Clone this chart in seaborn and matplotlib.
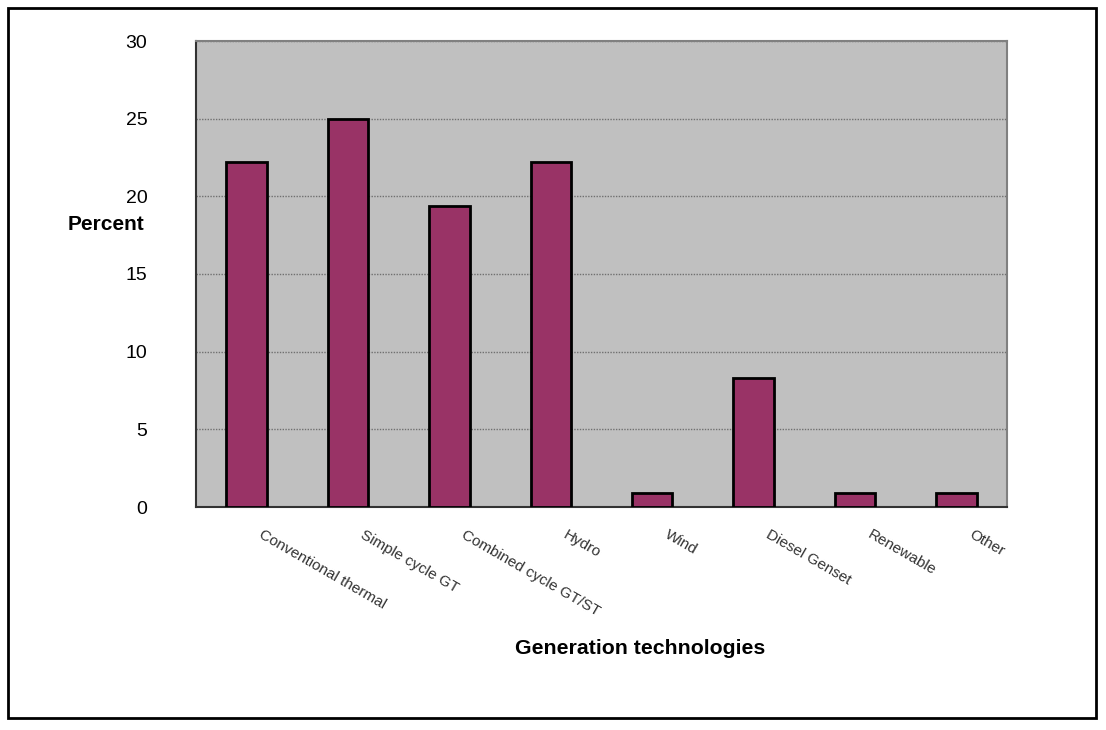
import pandas as pd
import seaborn as sns
import matplotlib.pyplot as plt
import matplotlib.transforms as mtransforms
from matplotlib.patches import Rectangle

# data
technologies = ["Conventional thermal", "Simple cycle GT", "Combined cycle GT/ST", "Hydro",
                "Wind", "Diesel Genset", "Renewable", "Other"]
percent = [22.2, 25.0, 19.4, 22.2, 0.9, 8.3, 0.9, 0.9]

df = pd.DataFrame({"tech": technologies, "pct": percent})

sns.set_style("white")
plt.rcParams['font.family'] = ['Liberation Sans', 'DejaVu Sans']

fig = plt.figure(figsize=(11.06, 7.30), dpi=100)
ax = fig.add_axes([196 / 1106, 1 - 507 / 730, 811 / 1106, 466 / 730])
ax.set_facecolor("#c0c0c0")

sns.barplot(data=df, x="tech", y="pct", color="#993366", saturation=1,
            edgecolor="black", linewidth=2, width=0.4, ax=ax, zorder=3)

ax.set_xlim(-0.5, len(technologies) - 0.5)
ax.set_ylim(0, 30)
ax.set_yticks(range(0, 31, 5))
ax.yaxis.grid(True, color="#707070", linestyle=(0, (1, 1)), linewidth=1, zorder=0)
ax.set_axisbelow(True)

# ticks on category boundaries, labels near the centres
ax.set_xticks([i - 0.5 for i in range(len(technologies) + 1)], minor=True)
ax.tick_params(axis="x", which="minor", length=6, width=1, color="black", direction="out")
ax.tick_params(axis="x", which="major", length=0, pad=15)
ax.set_xticks(range(len(technologies)))
ax.set_xticklabels(technologies, rotation=-30, ha="left", va="top",
                   rotation_mode="anchor", fontsize=11, color="#333333")
shift = mtransforms.ScaledTranslation(17 / 100, 0, fig.dpi_scale_trans)
for lbl in ax.get_xticklabels():
    lbl.set_transform(lbl.get_transform() + shift)

ax.tick_params(axis="y", length=7, width=1, color="black", direction="out", pad=28,
               labelsize=14, labelcolor="black")
ax.set_xlabel(None)
ax.set_ylabel(None)

ax.spines["left"].set_color("#333333")
ax.spines["bottom"].set_color("#333333")
ax.spines["top"].set_color("#808080")
ax.spines["right"].set_color("#808080")
for s in ax.spines.values():
    s.set_linewidth(1.5)

fig.text(68 / 1106, 1 - 225 / 730, "Percent", fontsize=15, weight="bold", color="black",
         va="center", ha="left")
fig.text(640 / 1106, 1 - 648 / 730, "Generation technologies", fontsize=15.3, weight="bold",
         color="black", va="center", ha="center")

# outer frame
fig.patches.append(Rectangle((8 / 1106, 1 - 718 / 730), 1088 / 1106, 710 / 730,
                             transform=fig.transFigure, fill=False,
                             edgecolor="black", linewidth=2))

fig.savefig("out.png", dpi=100)
